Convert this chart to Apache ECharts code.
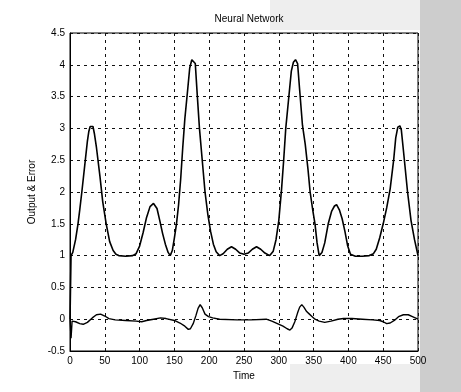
<!DOCTYPE html>
<html>
<head>
<meta charset="utf-8">
<title>Neural Network</title>
<script src="https://cdn.jsdelivr.net/npm/echarts/dist/echarts.min.js"></script>
<style>
    html, body { margin: 0; padding: 0; background: #fff; }
    #chart { width: 461px; height: 392px; }
</style>
</head>
<body>
<div id="chart"></div>
<script>
var chartTitle = 'Neural Network';
var xName = 'Time';
var yName = 'Output & Error';

var outputTime = [0, 1.5, 4, 8, 11.5, 14, 17, 22, 25, 27, 29, 31, 33, 35, 38, 43, 47, 52, 57, 62, 66, 70, 80, 90, 95, 100,
    105, 110, 115, 120, 125, 129, 133, 137, 141, 144, 147, 150, 153, 156, 159, 162, 165, 169, 172, 175, 177, 180, 183,
    186, 190, 194, 198, 202, 206, 210, 215, 220, 226, 232, 238, 244, 250, 256, 262, 268, 274, 280, 287, 292, 296, 300,
    304, 307, 310, 314, 318, 321, 324, 327, 330, 334, 338, 342, 345, 349, 352, 355, 358, 362, 366, 371, 376, 380, 383,
    387, 391, 395, 399, 403, 410, 420, 430, 436, 440, 445, 450, 455, 460, 465, 468, 471, 474, 476, 480, 485, 490, 495, 500];
var outputValue = [0, 1.0, 1.05, 1.25, 1.5, 1.72, 2.0, 2.5, 2.8, 2.95, 3.03, 3.05, 3.03, 2.92, 2.7, 2.25, 1.85, 1.5, 1.22,
    1.08, 1.02, 1.0, 0.99, 1.0, 1.03, 1.15, 1.36, 1.6, 1.77, 1.82, 1.74, 1.55, 1.35, 1.18, 1.05, 1.0, 1.08, 1.28, 1.5,
    1.8, 2.2, 2.7, 3.15, 3.6, 3.95, 4.08, 4.1, 4.02, 3.5, 3.0, 2.5, 2.0, 1.65, 1.38, 1.18, 1.06, 1.0, 1.03, 1.1, 1.14,
    1.1, 1.04, 1.02, 1.04, 1.1, 1.14, 1.1, 1.04, 1.0, 1.07, 1.25, 1.55, 2.05, 2.5, 3.0, 3.45, 3.9, 4.04, 4.08, 4.02,
    3.6, 3.05, 2.75, 2.35, 2.0, 1.7, 1.5, 1.2, 1.0, 1.05, 1.2, 1.5, 1.7, 1.78, 1.8, 1.72, 1.58, 1.38, 1.15, 1.02, 0.99,
    0.99, 1.0, 1.03, 1.1, 1.28, 1.5, 1.75, 2.05, 2.5, 2.85, 3.02, 3.04, 2.98, 2.55, 2.0, 1.55, 1.25, 1.0];

var errorTime = [0, 1.5, 3, 8, 14, 19, 25, 32, 38, 44, 50, 56, 65, 80, 95, 103, 110, 120, 130, 138, 150, 158, 165, 170,
    173, 177, 181, 184, 187, 190, 194, 199, 205, 215, 240, 260, 282, 290, 298, 306, 312, 316, 319, 323, 327, 330, 333,
    336, 340, 344, 348, 352, 358, 366, 375, 385, 393, 405, 420, 435, 445, 450, 455, 460, 466, 472, 479, 486, 492, 500];
var errorValue = [0, -0.3, -0.03, -0.04, -0.07, -0.08, -0.05, 0.02, 0.07, 0.08, 0.05, 0.01, -0.01, -0.02, -0.03, -0.04,
    -0.02, 0.0, 0.02, 0.01, -0.02, -0.06, -0.11, -0.16, -0.15, -0.07, 0.06, 0.17, 0.23, 0.18, 0.08, 0.04, 0.02, 0.0,
    -0.01, -0.01, 0.0, -0.03, -0.07, -0.11, -0.15, -0.17, -0.14, -0.04, 0.1, 0.19, 0.23, 0.19, 0.12, 0.08, 0.04, 0.0,
    -0.03, -0.05, -0.03, 0.0, 0.01, 0.01, 0.0, -0.01, -0.02, -0.04, -0.07, -0.06, -0.02, 0.04, 0.07, 0.07, 0.04, 0.0];

function pairs(xs, ys) {
    var out = [];
    for (var i = 0; i < xs.length; i++) {
        out.push([xs[i], ys[i]]);
    }
    return out;
}

var font = 'Liberation Sans, Arial, sans-serif';
var gridLine = { show: true, lineStyle: { color: '#111', width: 1, type: [3, 4] } };

var chart = echarts.init(document.getElementById('chart'));
chart.setOption({
    backgroundColor: '#fff',
    animation: false,
    graphic: [
        { type: 'rect', left: 420, top: 0, shape: { width: 41, height: 392 }, style: { fill: '#cdcdcd' }, z: -10 },
        { type: 'rect', left: 270, top: 0, shape: { width: 150, height: 30 }, style: { fill: '#eeeeee' }, z: -10 },
        { type: 'rect', left: 290, top: 364, shape: { width: 130, height: 28 }, style: { fill: '#eeeeee' }, z: -10 }
    ],
    title: {
        text: chartTitle,
        left: 244,
        top: 9,
        textAlign: 'center',
        textStyle: { fontFamily: font, fontSize: 10, fontWeight: 'normal', color: '#000' }
    },
    grid: {
        left: 70, right: 43, top: 33, bottom: 41,
        show: true, backgroundColor: '#fff', borderColor: '#000', borderWidth: 1
    },
    xAxis: {
        type: 'value',
        min: 0, max: 500, interval: 50,
        name: xName,
        nameLocation: 'middle',
        nameGap: 18,
        nameTextStyle: { fontFamily: font, fontSize: 10, color: '#000' },
        axisLine: { onZero: false, lineStyle: { color: '#000' } },
        axisTick: { show: false },
        axisLabel: { fontFamily: font, fontSize: 10, color: '#000', margin: 5 },
        splitLine: gridLine
    },
    yAxis: {
        type: 'value',
        min: -0.5, max: 4.5, interval: 0.5,
        name: yName,
        nameLocation: 'middle',
        nameGap: 27,
        nameTextStyle: { fontFamily: font, fontSize: 10, color: '#000' },
        axisLine: { show: true, onZero: false, lineStyle: { color: '#000' } },
        axisTick: { show: false },
        axisLabel: { fontFamily: font, fontSize: 10, color: '#000', margin: 5 },
        splitLine: gridLine
    },
    series: [
        {
            name: 'Output',
            type: 'line',
            data: pairs(outputTime, outputValue),
            symbol: 'none',
            lineStyle: { color: '#000', width: 1.6 }
        },
        {
            name: 'Error',
            type: 'line',
            data: pairs(errorTime, errorValue),
            symbol: 'none',
            lineStyle: { color: '#000', width: 1.4 }
        }
    ]
});
</script>
</body>
</html>
